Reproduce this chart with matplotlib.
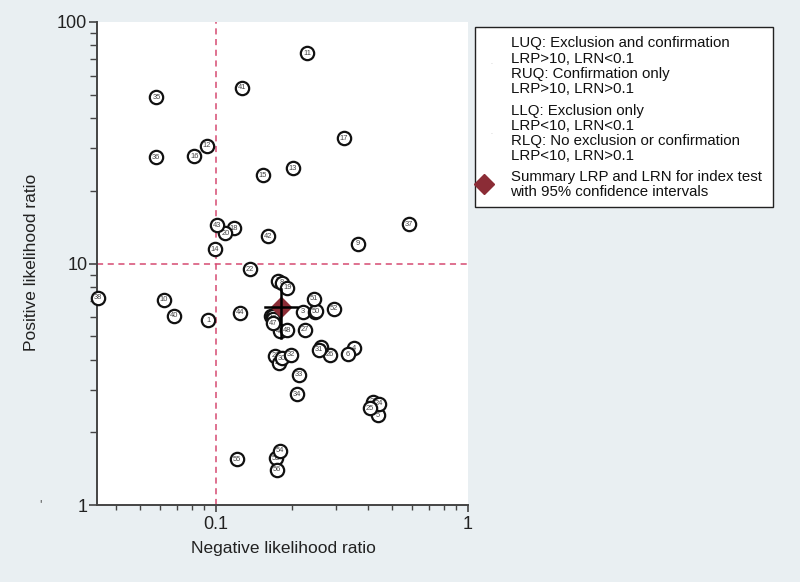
import matplotlib
matplotlib.use("Agg")
import matplotlib.pyplot as plt
from matplotlib.ticker import LogLocator, NullFormatter, FixedLocator, FixedFormatter
from matplotlib.patches import Rectangle

plt.rcParams['font.family'] = ['Liberation Sans', 'DejaVu Sans']

# Study data
study_ids = list(range(1, 57))
lrn = [0.093, 0.166, 0.221, 0.353, 0.438, 0.334, 0.176, 0.182, 0.366, 0.062,
       0.230, 0.092, 0.2015, 0.099, 0.153, 0.082, 0.322, 0.118, 0.192, 0.109,
       0.172, 0.136, 0.421, 0.443, 0.408, 0.283, 0.225, 0.178, 0.262, 0.183,
       0.257, 0.199, 0.214, 0.210, 0.058, 0.058, 0.585, 0.034, 0.169, 0.068,
       0.127, 0.161, 0.1006, 0.1245, 0.179, 0.168, 0.169, 0.192, 0.246, 0.249,
       0.245, 0.294, 0.173, 0.179, 0.121, 0.175]
lrp = [5.82, 6.05, 6.30, 4.46, 2.35, 4.21, 8.49, 8.31, 12.08, 7.08,
       74.3, 30.7, 24.85, 11.45, 23.24, 27.85, 33.05, 13.98, 7.92, 13.37,
       4.14, 9.46, 2.68, 2.62, 2.52, 4.18, 5.32, 3.89, 4.50, 4.05,
       4.39, 4.18, 3.47, 2.88, 48.7, 27.6, 14.57, 7.22, 6.04, 6.08,
       53.4, 12.96, 14.43, 6.26, 5.24, 5.91, 5.65, 5.29, 6.30, 6.34,
       7.13, 6.50, 1.56, 1.68, 1.55, 1.40]

# Summary estimate with 95% CI
summary_lrn = 0.181
summary_lrn_ci = [0.156, 0.210]
summary_lrp = 6.6
summary_lrp_ci = [4.9, 7.85]

x_ticks = [0.1, 1]
x_tick_labels = ["0.1", "1"]
y_ticks = [1, 10, 100]
y_tick_labels = ["1", "10", "100"]

legend_lines = [
    "LUQ: Exclusion and confirmation", "LRP>10, LRN<0.1",
    "RUQ: Confirmation only", "LRP>10, LRN>0.1",
    "LLQ: Exclusion only", "LRP<10, LRN<0.1",
    "RLQ: No exclusion or confirmation", "LRP<10, LRN>0.1",
    "Summary LRP and LRN for index test", "with 95% confidence intervals",
]

BG = '#e9eff2'
DASH = '#d64a72'
MAROON = '#8b2c36'
W, H = 800, 582

fig = plt.figure(figsize=(8.0, 5.82), dpi=100, facecolor=BG)
ax = fig.add_axes([97 / W, 1 - 505 / H, (468 - 97) / W, (505 - 22) / H])
ax.set_facecolor('white')
ax.set_xscale('log')
ax.set_yscale('log')
ax.set_xlim(0.0337, 1)
ax.set_ylim(1, 100)

for s in ['top', 'right']:
    ax.spines[s].set_visible(False)
for s in ['left', 'bottom']:
    ax.spines[s].set_color('#444444')
    ax.spines[s].set_linewidth(1.4)

ax.xaxis.set_major_locator(FixedLocator(x_ticks))
ax.xaxis.set_major_formatter(FixedFormatter(x_tick_labels))
ax.yaxis.set_major_locator(FixedLocator(y_ticks))
ax.yaxis.set_major_formatter(FixedFormatter(y_tick_labels))
ax.xaxis.set_minor_locator(LogLocator(base=10, subs=range(2, 10)))
ax.yaxis.set_minor_locator(LogLocator(base=10, subs=range(2, 10)))
ax.xaxis.set_minor_formatter(NullFormatter())
ax.yaxis.set_minor_formatter(NullFormatter())
ax.tick_params(axis='y', which='major', length=6, width=1.2, color='#444444',
               labelsize=13, labelcolor='#222222', pad=1)
ax.tick_params(axis='y', which='minor', length=5, width=1.0, color='#444444')
ax.tick_params(axis='x', which='major', length=5, width=1.2, color='#444444',
               labelsize=13, labelcolor='#222222', pad=3)
ax.tick_params(axis='x', which='minor', length=3.5, width=1.0, color='#444444')

# Reference lines
ax.axvline(0.1, color=DASH, linestyle=(0, (4, 3)), linewidth=1.1, zorder=1)
ax.axhline(10, color=DASH, linestyle=(0, (4, 3)), linewidth=1.1, zorder=1)

# Study points
for i, (sid, xv, yv) in enumerate(zip(study_ids, lrn, lrp)):
    z = 3 + i * 0.01
    ax.plot(xv, yv, 'o', ms=9.6, mfc='white', mec='#111111', mew=1.6,
            zorder=z, clip_on=False)
    ax.text(xv, yv, str(sid), fontsize=5.4, color='#444444',
            ha='center', va='center', zorder=z + 0.001)

# Summary
ax.plot(summary_lrn, summary_lrp, 'D', ms=10.5, color=MAROON, zorder=9)
ax.plot(summary_lrn_ci, [summary_lrp, summary_lrp], color='black', lw=1.8, zorder=11)
ax.plot([summary_lrn, summary_lrn], summary_lrp_ci, color='black', lw=1.8, zorder=11)

# Axis labels
fig.text(283 / W, 1 - 548 / H, "Negative likelihood ratio", fontsize=12.5,
         color='#222222', ha='center', va='center')
fig.text(32 / W, 1 - 262 / H, "Positive likelihood ratio", fontsize=12.5,
         color='#222222', ha='center', va='center', rotation=90)
fig.text(40 / W, 1 - 505 / H, "'", fontsize=9, color='#555555', ha='center', va='center')

# Legend box
fig.patches.append(Rectangle((475 / W, 1 - 207 / H), (773 - 475) / W, (207 - 27) / H,
                             transform=fig.transFigure, facecolor='white',
                             edgecolor='#222222', linewidth=1.0, zorder=0))
legend_y = [43.3, 59, 74.2, 89.3, 110.7, 126, 140.7, 156, 176.7, 192.3]
for txt, yp in zip(legend_lines, legend_y):
    fig.text(510.5 / W, 1 - yp / H, txt, fontsize=10.8, color='#111111',
             ha='left', va='center')
fig.text(491 / W, 1 - 63 / H, ".", fontsize=5, color='#bbbbbb', ha='center', va='center')
fig.text(491 / W, 1 - 133 / H, ".", fontsize=5, color='#bbbbbb', ha='center', va='center')
fig.lines.append(plt.Line2D([484 / W], [1 - 183.5 / H], marker='D', ms=10.5,
                            color=MAROON, transform=fig.transFigure))

fig.savefig('out.png', dpi=100, facecolor=BG)
